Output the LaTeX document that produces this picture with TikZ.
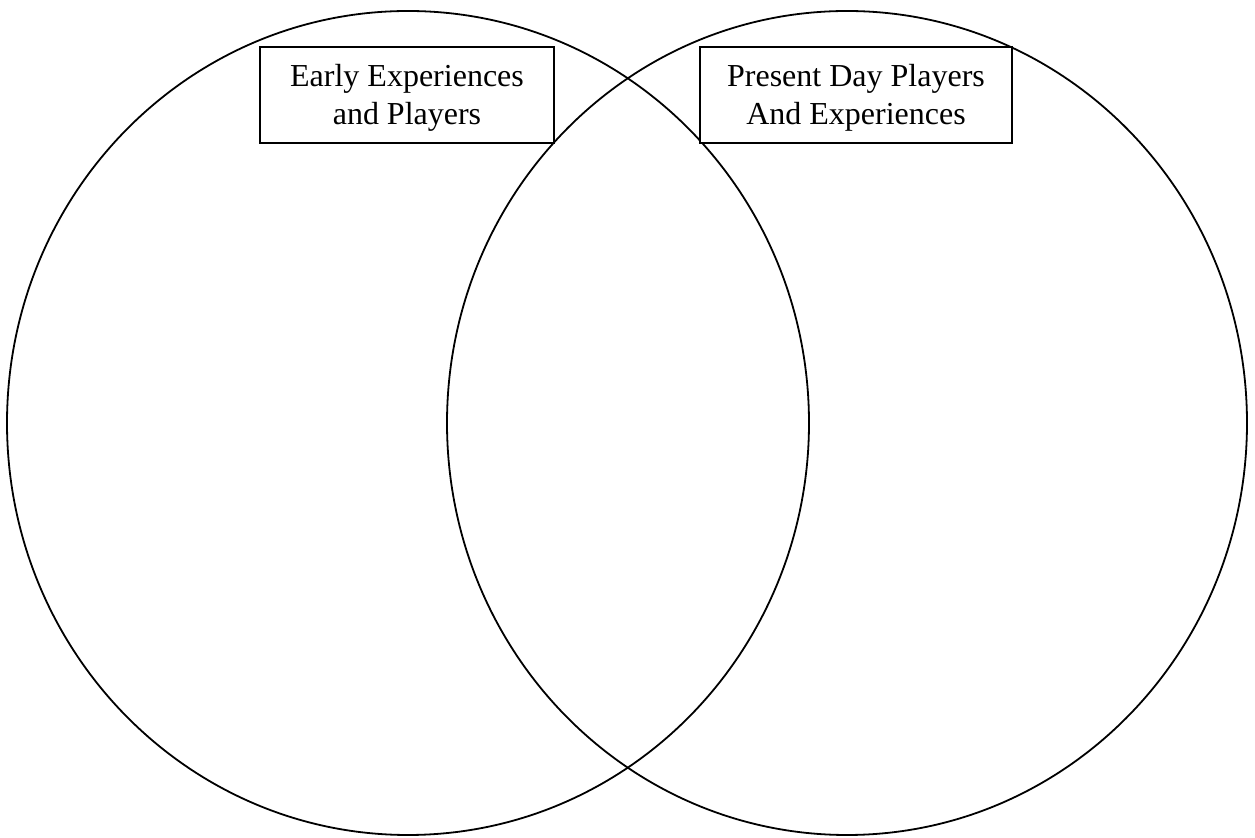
\documentclass[tikz,border=0pt]{standalone}
\usepackage{fontspec}
\setmainfont{Liberation Serif}
\begin{document}
\begin{tikzpicture}[x=0.5pt,y=-0.5pt,
  ring/.style={draw=black,line width=0.9pt},
  labelbox/.style={draw=black,line width=0.9pt,fill=white,inner sep=0pt},
  labeltext/.style={inner sep=0pt,align=center,font=\fontsize{16}{18.8}\selectfont}]
\useasboundingbox (0,0) rectangle (1255,838);
\draw[ring] (408,423) ellipse [x radius=401, y radius=412];
\draw[ring] (847,423) ellipse [x radius=400, y radius=412];
\node[labelbox,minimum width=147pt,minimum height=48pt] (early) at (407,95) {};
\node[labelbox,minimum width=156pt,minimum height=48pt] (present) at (856,95) {};
\node[labeltext] (earlytext) at ([yshift=-1.5pt]early.center) {Early Experiences\\and Players};
\node[labeltext] (presenttext) at ([yshift=-1.5pt]present.center) {Present Day Players\\And Experiences};
\end{tikzpicture}
\end{document}
